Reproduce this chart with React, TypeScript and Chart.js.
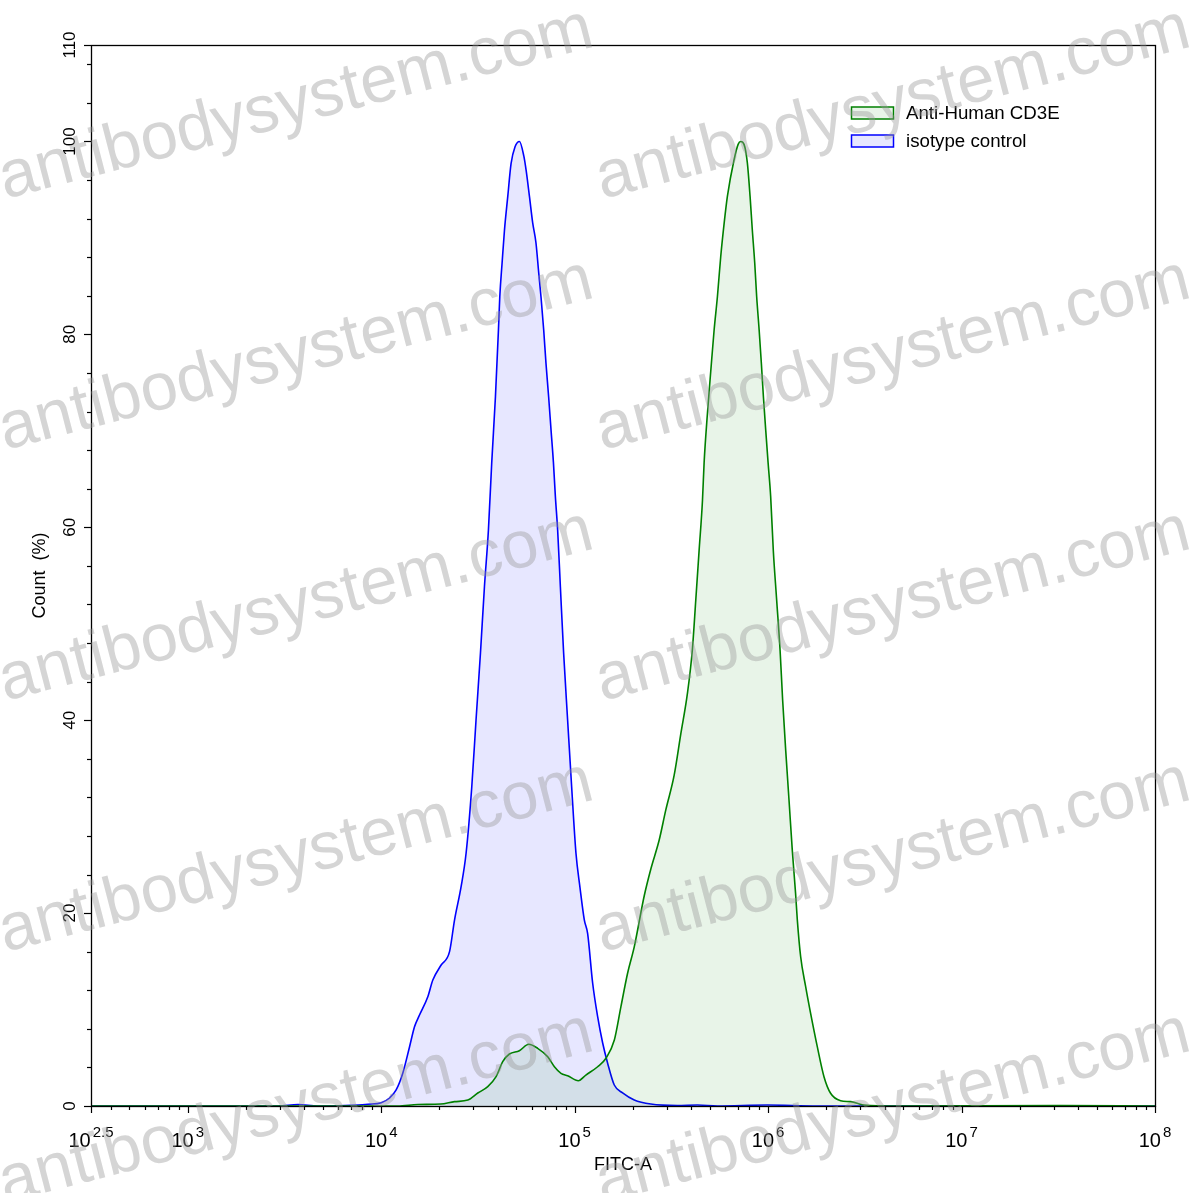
import React, { useEffect, useRef } from 'react';
import { Chart, registerables } from 'chart.js';

Chart.register(...registerables);

// ---------- data ----------
const seriesLabels = ['Anti-Human CD3E', 'isotype control'];
const seriesLineColors = ['#008000', '#0000ff'];
const seriesFillColors = ['rgba(0,128,0,0.09)', 'rgba(0,0,255,0.095)'];

// Anti-Human CD3E (FITC-A value, Count %)
const cd3eX = [316, 12200, 15450, 20300, 23930, 28050, 31580, 35550, 39250, 42480, 46000, 51800, 57900, 64400, 72600, 78600, 85000, 92000, 104500, 114300, 131500, 145200, 160400, 173500, 187800, 203300, 229000, 247900, 273800, 296000, 327000, 354000, 383000, 406000, 423000, 440000, 458000, 467000, 486000, 506000, 526000, 547000, 569000, 593000, 616000, 667000, 700000, 722000, 751000, 781000, 807000, 829000, 853000, 873000, 899000, 923000, 946000, 972000, 1000000, 1031000, 1064000, 1107000, 1153000, 1189000, 1233000, 1283000, 1334000, 1387000, 1416000, 1473000, 1563000, 1659000, 1796000, 1945000, 2104000, 2371000, 2671000, 3130000, 4640000, 31600000, 100000000];
const cd3eY = [0, 0, 0.15, 0.2, 0.45, 0.62, 1.35, 2.0, 3.04, 4.6, 5.39, 5.73, 6.4, 5.98, 5.11, 4.07, 3.39, 3.14, 2.62, 3.21, 4.07, 4.95, 6.84, 10.3, 13.76, 16.5, 21.8, 24.6, 27.6, 30.7, 34.3, 38.6, 42.8, 47.3, 52.5, 57.6, 62.8, 66.7, 71.85, 76.3, 80.45, 83.9, 88.05, 91.55, 94.3, 98.1, 99.7, 100, 99.7, 97.8, 94.3, 90.8, 87.4, 83.9, 80.45, 77.0, 73.5, 70.1, 66.7, 63.2, 57.6, 52.5, 47.3, 42.1, 36.9, 31.7, 26.5, 22.05, 19.3, 15.5, 12.4, 9.6, 6.15, 3.04, 1.32, 0.55, 0.45, 0.1, 0, 0.05, 0];

// isotype control (FITC-A value, Count %)
const isoX = [316, 2930, 3715, 4710, 7590, 8530, 10000, 11050, 11950, 12940, 14020, 14870, 15780, 17420, 18490, 20420, 22560, 23940, 25890, 27480, 29400, 30920, 32600, 34180, 35840, 37270, 38960, 40380, 41030, 42170, 43380, 45120, 46920, 49200, 51860, 54600, 56100, 58400, 60700, 63100, 65200, 67000, 69200, 71100, 73400, 75500, 77700, 79500, 81700, 84400, 87700, 92000, 96500, 101600, 106500, 112200, 116700, 123900, 131500, 139600, 148000, 160300, 177000, 203300, 247700, 340000, 431000, 547000, 991000, 1790000, 100000000];
const isoY = [0, 0, 0.15, 0, 0.1, 0.18, 0.34, 0.83, 1.66, 3.42, 6.15, 8.22, 9.43, 11.33, 13.06, 14.62, 16.0, 19.28, 22.74, 26.23, 33.1, 40.0, 46.97, 53.84, 59.72, 66.67, 73.54, 80.45, 83.9, 87.4, 90.8, 94.3, 97.7, 99.46, 100, 98.5, 97.05, 94.3, 91.55, 89.5, 86.4, 83.9, 80.45, 77.0, 73.5, 70.1, 66.7, 63.2, 59.7, 53.8, 47.0, 40.0, 33.1, 26.2, 22.7, 19.3, 17.9, 12.75, 9.26, 6.53, 4.46, 2.18, 1.35, 0.62, 0.2, 0.05, 0.1, 0, 0.1, 0, 0];

const xMin = 316.2278;
const xMax = 100000000;
const xMajorTicks = [316.2278, 1000, 10000, 100000, 1000000, 10000000, 100000000];
const xTickExponents = ['2.5', '3', '4', '5', '6', '7', '8'];
const yMin = 0;
const yMax = 110;
const yLabelTicks = [0, 20, 40, 60, 80, 100, 110];
const yMinorStep = 4;
const xAxisTitle = 'FITC-A';
const yAxisTitle = 'Count  (%)';
const watermarkText = 'antibodysystem.com';

const FONT = '"Liberation Sans", Arial, Helvetica, sans-serif';

const axesPlugin = {
  id: 'flowAxes',
  afterDatasetsDraw(chart: any) {
    const ctx = chart.ctx;
    const { left, right, top, bottom } = chart.chartArea;
    const xs = chart.scales.x;
    const ys = chart.scales.y;
    ctx.save();
    ctx.strokeStyle = '#000';
    ctx.fillStyle = '#000';
    ctx.lineWidth = 1.3;
    // frame
    ctx.strokeRect(Math.round(left) + 0.5, Math.round(top) + 0.5, Math.round(right - left), Math.round(bottom - top));

    // y ticks
    ctx.lineWidth = 1.2;
    const yTicks: number[] = [];
    for (let v = yMin; v <= yMax; v += yMinorStep) yTicks.push(v);
    yLabelTicks.forEach((v) => { if (!yTicks.includes(v)) yTicks.push(v); });
    yTicks.forEach((v) => {
      const py = Math.round(ys.getPixelForValue(v)) + 0.5;
      const len = yLabelTicks.includes(v) ? 7 : 4;
      ctx.beginPath();
      ctx.moveTo(left, py);
      ctx.lineTo(left - len, py);
      ctx.stroke();
    });
    ctx.font = `17px ${FONT}`;
    ctx.textAlign = 'center';
    ctx.textBaseline = 'alphabetic';
    yLabelTicks.forEach((v) => {
      const py = ys.getPixelForValue(v);
      ctx.save();
      ctx.translate(left - 16, py);
      ctx.rotate(-Math.PI / 2);
      ctx.fillText(String(v), 0, 0);
      ctx.restore();
    });

    // x ticks
    const lo = Math.floor(Math.log10(xMin));
    const hi = Math.ceil(Math.log10(xMax));
    for (let d = lo; d <= hi; d++) {
      for (let k = 1; k <= 9; k++) {
        const v = k * Math.pow(10, d);
        if (v < xMin * 0.999 || v > xMax * 1.001) continue;
        const px = Math.round(xs.getPixelForValue(v)) + 0.5;
        const len = k === 1 ? 7 : 4;
        ctx.beginPath();
        ctx.moveTo(px, bottom);
        ctx.lineTo(px, bottom + len);
        ctx.stroke();
      }
    }
    {
      const px = Math.round(xs.getPixelForValue(xMin)) + 0.5;
      ctx.beginPath();
      ctx.moveTo(px, bottom);
      ctx.lineTo(px, bottom + 7);
      ctx.stroke();
    }
    ctx.textAlign = 'left';
    xMajorTicks.forEach((v, i) => {
      const px = xs.getPixelForValue(v);
      ctx.font = `20px ${FONT}`;
      const w1 = ctx.measureText('10').width;
      ctx.font = `15px ${FONT}`;
      const w2 = ctx.measureText(xTickExponents[i]).width;
      const total = w1 + 2 + w2;
      const x0 = px - total / 2;
      ctx.font = `20px ${FONT}`;
      ctx.fillText('10', x0, bottom + 41);
      ctx.font = `15px ${FONT}`;
      ctx.fillText(xTickExponents[i], x0 + w1 + 2, bottom + 31);
    });

    // axis titles
    ctx.font = `18px ${FONT}`;
    ctx.textAlign = 'center';
    ctx.fillText(xAxisTitle, (left + right) / 2, bottom + 64);
    ctx.save();
    ctx.translate(45, (top + bottom) / 2);
    ctx.rotate(-Math.PI / 2);
    ctx.fillText(yAxisTitle, 0, 0);
    ctx.restore();

    // legend
    ctx.textAlign = 'left';
    ctx.textBaseline = 'middle';
    ctx.font = `18.7px ${FONT}`;
    chart.data.datasets.forEach((ds: any, i: number) => {
      const cy = 113 + i * 28;
      ctx.fillStyle = '#fff';
      ctx.fillRect(851.5, cy - 6, 42, 12);
      ctx.fillStyle = ds.backgroundColor;
      ctx.fillRect(851.5, cy - 6, 42, 12);
      ctx.strokeStyle = ds.borderColor;
      ctx.lineWidth = 1.5;
      ctx.strokeRect(851.5, cy - 6, 42, 12);
      ctx.fillStyle = '#000';
      ctx.fillText(ds.label, 906, cy + 1);
    });
    ctx.restore();
  },
  afterDraw(chart: any) {
    const ctx = chart.ctx;
    ctx.save();
    ctx.font = `67px ${FONT}`;
    ctx.fillStyle = 'rgba(150,150,150,0.4)';
    ctx.textAlign = 'left';
    ctx.textBaseline = 'alphabetic';
    const starts = [5, 602];
    for (let r = 0; r < 5; r++) {
      starts.forEach((sx) => {
        ctx.save();
        ctx.translate(sx, 199 + r * 251);
        ctx.rotate(-14.5 * Math.PI / 180);
        ctx.fillText(watermarkText, 0, 0);
        ctx.restore();
      });
    }
    ctx.restore();
  },
};

export default function App() {
  const ref = useRef<HTMLCanvasElement | null>(null);
  useEffect(() => {
    document.body.style.margin = '0';
    const canvas = ref.current;
    if (!canvas) return;
    const chart = new Chart(canvas, {
      type: 'line',
      data: {
        datasets: [
          {
            label: seriesLabels[0],
            data: cd3eX.map((x, i) => ({ x, y: cd3eY[i] })),
            borderColor: seriesLineColors[0],
            backgroundColor: seriesFillColors[0],
            fill: 'origin',
            borderWidth: 1.6,
            pointRadius: 0,
            cubicInterpolationMode: 'monotone',
          },
          {
            label: seriesLabels[1],
            data: isoX.map((x, i) => ({ x, y: isoY[i] })),
            borderColor: seriesLineColors[1],
            backgroundColor: seriesFillColors[1],
            fill: 'origin',
            borderWidth: 1.6,
            pointRadius: 0,
            cubicInterpolationMode: 'monotone',
          },
        ],
      },
      options: {
        animation: false,
        responsive: false,
        devicePixelRatio: 1,
        layout: { padding: { left: 91, right: 42, top: 45, bottom: 87 } },
        plugins: { legend: { display: false }, tooltip: { enabled: false } },
        scales: {
          x: { type: 'logarithmic', min: xMin, max: xMax, display: false },
          y: { type: 'linear', min: yMin, max: yMax, display: false },
        },
      },
      plugins: [axesPlugin],
    } as any);
    return () => chart.destroy();
  }, []);
  return (
    <div style={{ width: 1197, height: 1193, background: '#fff' }}>
      <canvas ref={ref} width={1197} height={1193} style={{ display: 'block' }} />
    </div>
  );
}
